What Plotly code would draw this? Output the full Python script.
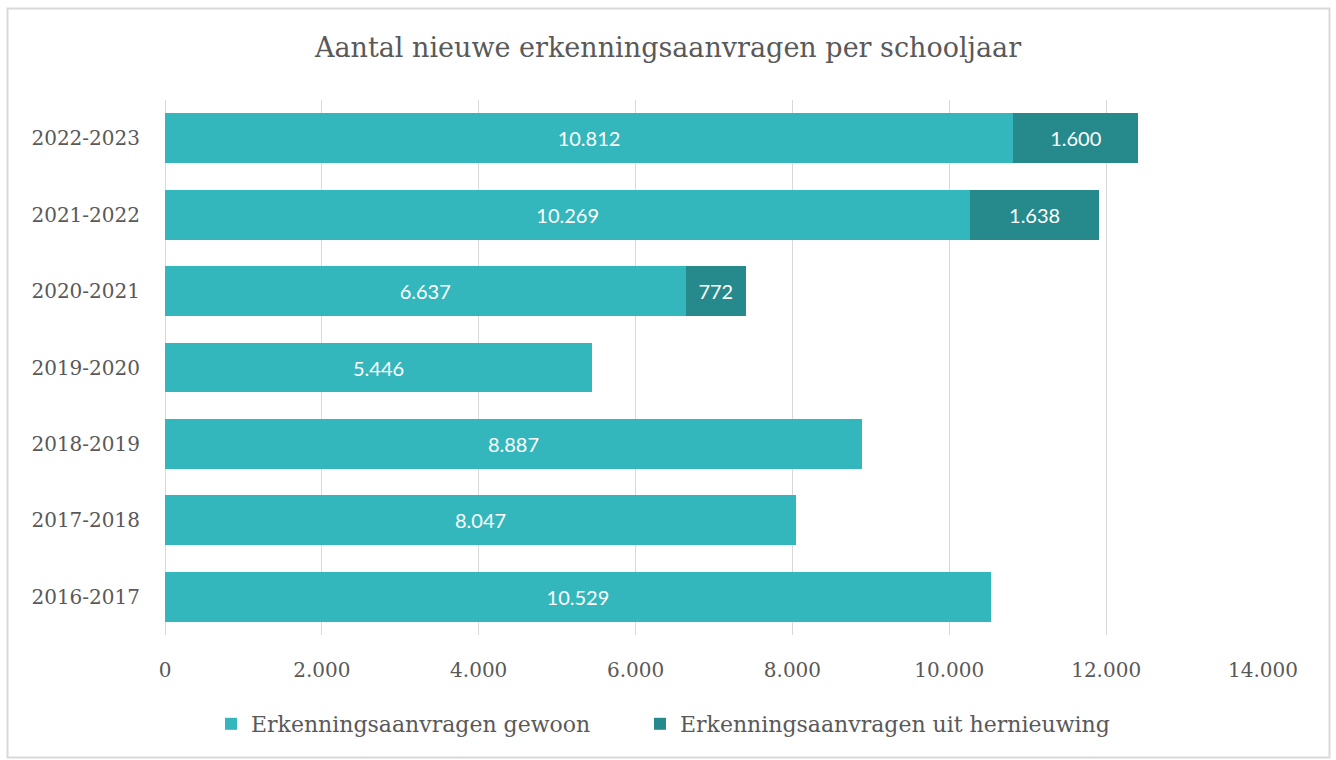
import plotly.graph_objects as go

years = ["2016-2017", "2017-2018", "2018-2019", "2019-2020", "2020-2021", "2021-2022", "2022-2023"]
gewoon = [10529, 8047, 8887, 5446, 6637, 10269, 10812]
hernieuwing = [None, None, None, None, 772, 1638, 1600]
x_ticks = [0, 2000, 4000, 6000, 8000, 10000, 12000, 14000]

c_light = "#33B7BC"
c_dark = "#268A8C"
txt = "#595959"
serif = "DejaVu Serif"

fig = go.Figure()
fig.add_trace(go.Bar(
    y=years, x=gewoon, orientation="h", name="Erkenningsaanvragen gewoon",
    marker=dict(color=c_light, line=dict(width=0)), legend="legend",
    texttemplate="%{x:,}", textposition="inside", insidetextanchor="middle",
    textfont=dict(family="Lato", size=20, color="white"),
))
fig.add_trace(go.Bar(
    y=years, x=hernieuwing, orientation="h", name="Erkenningsaanvragen uit hernieuwing",
    marker=dict(color=c_dark, line=dict(width=0)), legend="legend2",
    texttemplate="%{x:,}", textposition="inside", insidetextanchor="middle",
    textfont=dict(family="Lato", size=20, color="white"),
))

W, H = 1336, 760
ml, mr, mt, mb = 165, 73, 100, 125
pw = W - ml - mr
ph = H - mt - mb

def px(xp):
    return (xp - ml) / pw

def py(yp):
    return (H - mb - yp) / ph

leg_common = dict(orientation="h", xanchor="left", y=py(724), yanchor="middle",
                  font=dict(family=serif, size=22, color=txt), itemwidth=30)

fig.update_layout(
    width=W, height=H,
    barmode="stack", bargap=0.346,
    separators=",.",
    paper_bgcolor="white", plot_bgcolor="white",
    margin=dict(l=ml, r=mr, t=mt, b=mb),
    title=dict(text="Aantal nieuwe erkenningsaanvragen per schooljaar",
               x=0.5, xanchor="center", y=1 - 48 / H, yanchor="middle",
               font=dict(family=serif, size=27, color=txt)),
    xaxis=dict(range=[0, 14000], tickvals=x_ticks, tickformat=",d", showgrid=True, gridcolor="#d9d9d9",
               gridwidth=1, zeroline=True, zerolinecolor="#d9d9d9", zerolinewidth=1,
               showline=False, ticks="", ticklabelstandoff=21,
               tickfont=dict(family=serif, size=20, color=txt)),
    yaxis=dict(showgrid=False, ticks="", showline=False, ticklabelstandoff=24,
               tickfont=dict(family=serif, size=20, color=txt)),
    legend=dict(x=px(211), **leg_common),
    legend2=dict(x=px(640), **leg_common),
    showlegend=True,
    shapes=[dict(type="rect", xref="paper", yref="paper",
                 x0=px(7.5), x1=px(1329.5), y0=py(757.5), y1=py(8.5),
                 line=dict(color="#d9d9d9", width=2), fillcolor="rgba(0,0,0,0)", layer="below")],
)

fig.write_html("out.html", config={"displayModeBar": False},
               post_script="document.body.style.margin='0px';document.body.style.overflow='hidden';")
